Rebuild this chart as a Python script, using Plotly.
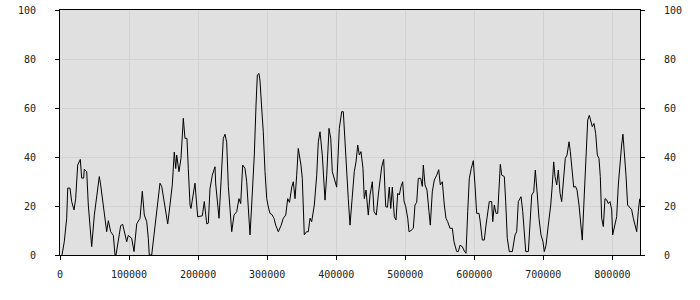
import plotly.graph_objects as go

# x positions in thousands
x_k = [2.9, 6.2, 9.7, 11.2, 14.5, 16.9, 20.3, 22.7, 25.6, 29.4, 31.4, 34.3, 35.2, 38.7, 41.0, 45.9, 49.7, 53.2,
       56.9, 58.9, 62.7, 67.6, 70.0, 73.4, 77.2, 79.7, 81.1, 84.4, 87.9, 90.8, 94.1, 96.6, 98.9, 103.8, 107.2,
       111.1, 115.9, 119.2, 122.1, 125.6, 127.9, 129.3, 132.8, 136.1, 140.0, 144.8, 147.3, 152.1, 156.0, 159.3,
       162.6, 165.5, 167.6, 169.0, 172.3, 175.2, 178.6, 181.0, 183.9, 185.8, 188.3, 189.7, 193.1, 195.5, 199.4,
       206.1, 209.0, 212.5, 214.8, 217.2, 220.6, 224.5, 225.5, 227.8, 230.3, 233.2, 236.5, 239.0, 241.4, 243.8,
       248.7, 252.0, 255.9, 259.2, 261.7, 264.6, 267.9, 270.4, 272.7, 275.2, 277.6, 281.4, 283.9, 285.8, 288.2,
       289.7, 292.1, 294.4, 296.9, 299.4, 301.7, 304.1, 307.0, 309.9, 312.4, 316.2, 320.1, 323.4, 326.9, 329.8,
       332.4, 335.6, 337.9, 340.4, 342.8, 345.1, 349.0, 350.9, 353.8, 357.0, 359.6, 362.1, 364.5, 368.3, 371.8,
       374.1, 376.6, 379.9, 383.8, 386.3, 389.6, 392.1, 394.4, 396.8, 400.7, 404.5, 408.0, 410.3, 412.8, 414.2,
       417.5, 420.0, 423.3, 426.2, 428.7, 431.2, 433.5, 435.9, 438.8, 440.7, 443.2, 446.5, 449.0, 452.3, 454.8,
       458.1, 461.0, 463.5, 465.9, 468.8, 471.7, 474.3, 476.9, 479.0, 481.3, 484.2, 486.6, 489.1, 491.4, 493.9,
       496.3, 498.2, 500.7, 503.6, 505.5, 508.4, 511.7, 514.1, 516.6, 518.9, 522.4, 524.7, 526.2, 528.6, 531.5,
       534.4, 536.3, 539.2, 542.1, 545.6, 548.5, 550.8, 553.7, 556.6, 559.0, 561.5, 564.8, 568.2, 570.6, 574.5,
       576.9, 579.3, 582.7, 585.6, 588.0, 590.5, 592.8, 595.7, 598.6, 601.0, 603.5, 606.8, 608.3, 611.6, 614.5,
       617.0, 619.4, 621.7, 625.2, 626.7, 629.0, 631.5, 633.9, 636.2, 637.7, 639.7, 643.5, 645.5, 647.8, 650.7,
       655.1, 659.0, 661.4, 663.8, 667.7, 670.2, 672.5, 674.5, 678.3, 680.7, 683.2, 686.1, 688.4, 691.3, 693.7,
       696.6, 699.5, 701.4, 703.9, 707.2, 710.7, 713.0, 715.0, 716.9, 719.4, 721.7, 724.2, 726.6, 729.5, 731.8,
       734.3, 737.2, 739.1, 742.0, 744.0, 746.6, 748.8, 751.7, 754.6, 756.4, 759.3, 761.8, 764.3, 766.6, 768.6,
       770.9, 773.4, 775.8, 778.2, 780.6, 782.5, 784.5, 786.9, 789.3, 791.8, 794.1, 796.6, 799.0, 800.4, 802.8,
       806.2, 808.6, 811.5, 813.4, 815.3, 817.2, 819.7, 822.1, 825.5, 827.9, 830.3, 832.7, 835.2, 837.5, 839.6]

values = [0, 5.4, 15, 27.3, 27.3, 21.8, 18.4, 23, 36.7, 39, 31.4, 31.4, 35, 34, 20.4, 3.4, 16.3, 23,
          32, 28.6, 20.4, 9.5, 14, 9.5, 8, 0, 0, 6.8, 12, 12.5, 8, 5.4, 8, 6.8, 1.4,
          12.7, 15, 26, 16.3, 13.6, 6.8, 0, 0, 8, 17.7, 29.3, 28, 20.4, 12.7, 20.4,
          28.6, 42, 35.3, 40.8, 34, 39.4, 55.8, 47.6, 47.6, 35.4, 20.4, 19, 25.8, 29.3, 15.6,
          16, 21.8, 12.7, 13, 27, 32.6, 36, 29, 21.8, 15, 29.9, 47.6, 49.3, 46, 28,
          9.5, 16.3, 17.7, 23, 21, 36.7, 35.4, 29.9, 17.7, 8.2, 20.4, 40.8, 61.2, 73.5, 74.1,
          71, 60, 50.3, 34, 23, 19.6, 17, 16.5, 15, 12.2, 9.5, 12, 15, 16.3, 23,
          21.5, 27.7, 29.9, 23, 32.6, 43.5, 36.7, 31.3, 8.2, 9.5, 9.5, 15, 13.6, 20.4, 32.6,
          46.2, 50.3, 40.8, 22.4, 32.6, 51.7, 47.6, 34, 31.3, 27.7, 51.7, 58.5, 58.5, 46.2, 34,
          23, 12.2, 23, 34, 38, 44.9, 40.8, 42.2, 35.4, 23, 26.5, 16.3, 24.5, 29.9, 17.7,
          16.3, 24.5, 29.9, 36, 39, 19.7, 19.5, 27.7, 19, 27.7, 15.6, 14.3, 25.2, 24.5, 28,
          29.9, 22, 19.7, 15, 9.5, 10, 10.9, 20.4, 21.5, 31.3, 31.3, 28, 36.7, 28.6, 26.5,
          17.7, 12.2, 25.8, 30.6, 32.6, 34.8, 28.6, 29.9, 20.4, 15, 13.6, 10.9, 10.9, 5.4, 1.4,
          1.4, 4, 3.4, 1.6, 0.7, 17.7, 31.3, 35.4, 38.5, 28.6, 17, 17, 14.3, 6.1, 6.1,
          12.2, 16.3, 21.8, 21.8, 13.6, 20.4, 17, 17, 33.3, 37, 32.6, 32, 21.8, 6.8, 1.4,
          1.4, 8.2, 9.5, 21.8, 23.8, 17.7, 9.5, 1.4, 1.4, 13.6, 24.5, 25.8, 34.7, 24.5, 15,
          8.2, 5.4, 1.4, 4, 12.2, 20.4, 28.6, 38, 32, 28.6, 34.7, 25.2, 21.8, 31.3, 39.4,
          40.8, 46.2, 42.2, 32.6, 27.7, 28, 26.5, 20.4, 10.9, 6.1, 24.5, 42.2, 55.1, 57, 54.4,
          52.4, 53.7, 49.6, 40.8, 39.4, 32, 15, 11.6, 23, 22.5, 21, 21.8, 18.4, 8.2, 10.9,
          15.6, 28.6, 39.4, 44.9, 49.3, 43.5, 32.6, 20.4, 19, 18.5, 15, 12.2, 9.5, 17.7, 23]

x_vals = [v * 1000 for v in x_k]

y_ticks = [0, 20, 40, 60, 80, 100]
x_ticks = [0, 100000, 200000, 300000, 400000, 500000, 600000, 700000, 800000]

fig = go.Figure()
fig.add_trace(go.Scatter(x=x_vals, y=values, mode="lines",
                         line=dict(color="#000000", width=1), showlegend=False))
fig.add_trace(go.Scatter(x=x_vals, y=values, mode="lines", yaxis="y2",
                         line=dict(color="rgba(0,0,0,0)", width=0), showlegend=False,
                         hoverinfo="skip"))

font = dict(family="DejaVu Sans Mono", size=10, color="#222222")
fig.update_layout(
    width=700, height=300,
    margin=dict(l=60, r=60, t=10, b=45),
    paper_bgcolor="#ffffff",
    plot_bgcolor="#e0e0e0",
    font=font,
    xaxis=dict(range=[0, 840000], tickvals=x_ticks, ticktext=[str(t) for t in x_ticks],
               showgrid=True, gridcolor="#d2d2d2", gridwidth=1, zeroline=False,
               showline=True, linecolor="#000000", linewidth=1, mirror=True, automargin=False,
               ticks="outside", ticklen=4, tickcolor="#000000", ticklabelstandoff=6),
    yaxis=dict(range=[0, 100], tickvals=y_ticks, showgrid=True, gridcolor="#d2d2d2",
               zeroline=False, showline=True, linecolor="#000000", linewidth=1, automargin=False,
               ticks="outside", ticklen=4, tickcolor="#000000", ticklabelstandoff=17),
    yaxis2=dict(range=[0, 100], tickvals=y_ticks, overlaying="y", side="right",
                showgrid=False, zeroline=False, showline=True, linecolor="#000000", linewidth=1,
                automargin=False,
                ticks="outside", ticklen=4, tickcolor="#000000", ticklabelstandoff=17),
)

fig.write_html("out.html")
